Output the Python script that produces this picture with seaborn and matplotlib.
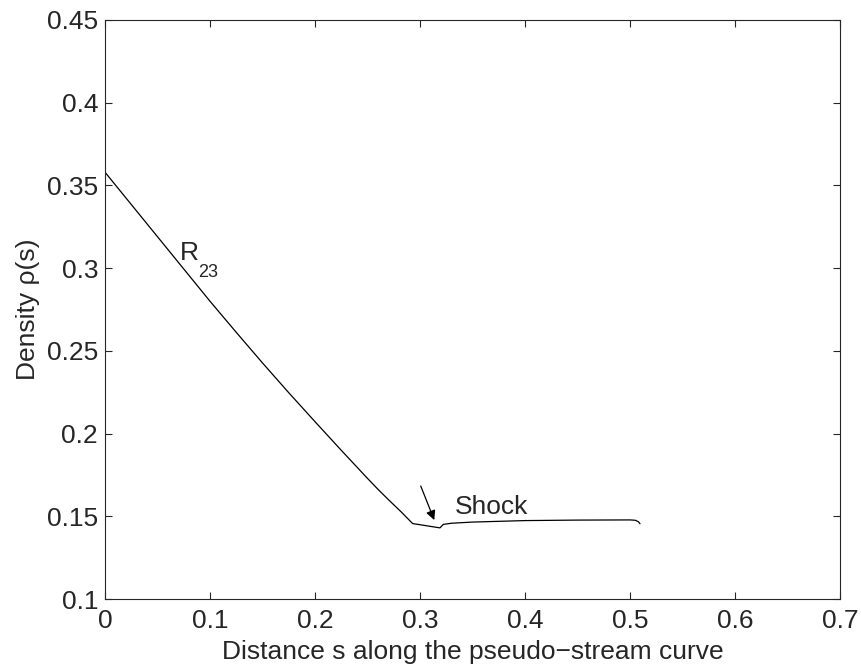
import seaborn as sns
import matplotlib.pyplot as plt
import numpy as np
import pandas as pd

# density along the pseudo-stream curve
s_vals = [0.0, 0.05, 0.10, 0.125, 0.15, 0.175, 0.20, 0.225, 0.25, 0.26, 0.27, 0.282,
          0.293, 0.305, 0.319, 0.3222, 0.33, 0.35, 0.40, 0.45, 0.50, 0.505, 0.508, 0.5095]
rho_vals = [0.358, 0.319, 0.280, 0.2612, 0.2427, 0.2247, 0.2072, 0.1899, 0.1729, 0.1663,
            0.1600, 0.1527, 0.1456, 0.1444, 0.1430, 0.1451, 0.1458, 0.1465, 0.1474, 0.1477,
            0.1478, 0.1476, 0.1467, 0.1455]

x_ticks = [0, 0.1, 0.2, 0.3, 0.4, 0.5, 0.6, 0.7]
y_ticks = [0.1, 0.15, 0.2, 0.25, 0.3, 0.35, 0.4, 0.45]

sns.set_style("ticks")
plt.rcParams['font.family'] = ['Liberation Sans', 'DejaVu Sans']
plt.rcParams['xtick.direction'] = 'in'
plt.rcParams['ytick.direction'] = 'in'

FS = 19

df = pd.DataFrame({'s': s_vals, 'rho': rho_vals})

fig = plt.figure(figsize=(8.62, 6.71), dpi=100)
ax = fig.add_axes([0.1218, 0.1073, 0.8527, 0.8629])

sns.lineplot(x='s', y='rho', data=df, ax=ax, sort=False, color='black',
             linewidth=0.9, estimator=None)

ax.set_xlim(0, 0.7)
ax.set_ylim(0.1, 0.45)
ax.set_xticks(x_ticks)
ax.set_xticklabels(['0', '0.1', '0.2', '0.3', '0.4', '0.5', '0.6', '0.7'])
ax.set_yticks(y_ticks)
ax.set_yticklabels(['0.1', '0.15', '0.2', '0.25', '0.3', '0.35', '0.4', '0.45'])
ax.tick_params(axis='both', which='both', length=5, width=0.8, labelsize=FS,
               top=True, right=True)
ax.tick_params(axis='x', pad=7)
ax.tick_params(axis='y', pad=5)
for sp in ax.spines.values():
    sp.set_visible(True)
    sp.set_linewidth(0.8)

ax.set_xlabel('Distance s along the pseudo\u2212stream curve', fontsize=FS, labelpad=5.5)
ax.set_ylabel('Density \u03c1(s)', fontsize=FS, labelpad=5)

ax.text(0.0714, 0.3094, 'R', fontsize=FS, va='center', ha='left')
ax.annotate('23', xy=(0.0714, 0.3094), xytext=(13, -14), textcoords='offset points',
            fontsize=13, va='center', ha='left')
ax.text(0.3333, 0.1558, 'Shock', fontsize=FS, va='center', ha='left')
ax.annotate('', xy=(0.3136, 0.1477), xytext=(0.3007, 0.1683),
            arrowprops=dict(arrowstyle='-|>', color='black', lw=0.9,
                            mutation_scale=14, shrinkA=0, shrinkB=0))

fig.savefig('out.png', dpi=100)
